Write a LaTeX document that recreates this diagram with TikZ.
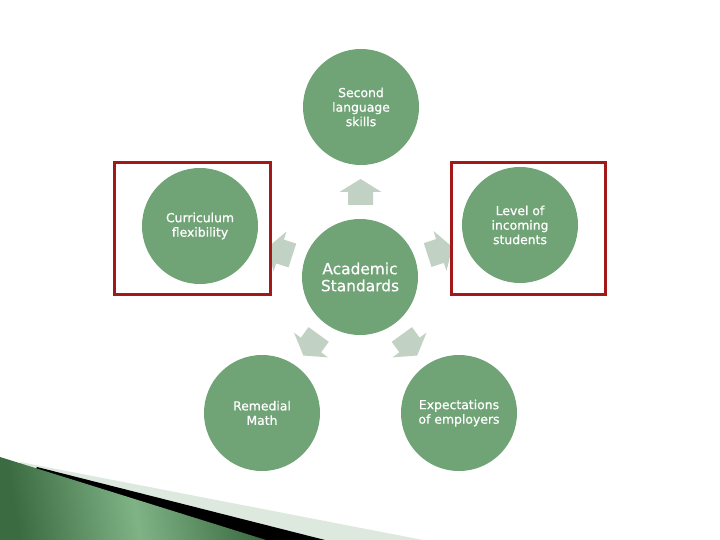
\documentclass[tikz,border=0pt]{standalone}
\usepackage{fontspec}
\setmainfont{DejaVu Sans}
\newfontfamily\lblfont{DejaVu Sans}[FakeBold=0.7]
\usetikzlibrary{calc}
\definecolor{circc}{HTML}{70A375}
\definecolor{arrc}{HTML}{C1D1C4}
\definecolor{redc}{HTML}{A31818}
\definecolor{gdark}{HTML}{3B6B41}
\definecolor{glight}{HTML}{7FB386}
\definecolor{lightband}{HTML}{DDE8DF}
\tikzset{
  bubble/.style={circle, fill=circc, minimum size=116pt, inner sep=0pt, text=white, align=center,
    font=\lblfont\fontsize{12.4}{14.5}\selectfont},
  hub/.style={bubble, font=\lblfont\fontsize{15.4}{17}\selectfont},
  frame/.style={draw=redc, line width=3pt, fill=white},
  blockarrow/.style={fill=arrc}
}
\begin{document}
\begin{tikzpicture}[x=1pt,y=-1pt]
\useasboundingbox (0,0) rectangle (720,540);
\fill[white] (0,0) rectangle (720,540);
% bottom-left decoration
\fill[lightband] (20,462) -- (423,540) -- (0,540) -- cycle;
\fill[black] (37,467) -- (325,540) -- (0,540) -- cycle;
\shade[left color=gdark, right color=gdark, middle color=glight, shading angle=100]
  (0,457) -- (266,540) -- (0,540) -- cycle;
% coordinates of nodes
\coordinate (cpos) at (360,277);
\coordinate (tpos) at (361,107);
\coordinate (rpos) at (520,225);
\coordinate (brpos) at (459,413);
\coordinate (blpos) at (262,413);
\coordinate (lpos) at (200,226);
% block arrows
\foreach \n/\a in {tpos/90, rpos/18, brpos/-54, blpos/-126, lpos/162}{
  \begin{scope}[shift={($(cpos)!0.5!(\n)$)}, rotate=\a]
    \fill[blockarrow] (-13,12.5) -- (0,12.5) -- (0,21) -- (13,0) -- (0,-21) -- (0,-12.5) -- (-13,-12.5) -- cycle;
  \end{scope}
}
% frames
\draw[frame] (114.5,163) rectangle (270,294);
\draw[frame] (451,163) rectangle (605.5,294);
% bubbles
\node[hub] (c) at (cpos) {Academic\\Standards};
\node[bubble] (t) at (tpos) {Second\\language\\skills};
\node[bubble] (r) at (rpos) {Level of\\incoming\\students};
\node[bubble] (br) at (brpos) {Expectations\\of employers};
\node[bubble] (bl) at (blpos) {Remedial\\Math};
\node[bubble] (l) at (lpos) {Curriculum\\flexibility};
\end{tikzpicture}
\end{document}
